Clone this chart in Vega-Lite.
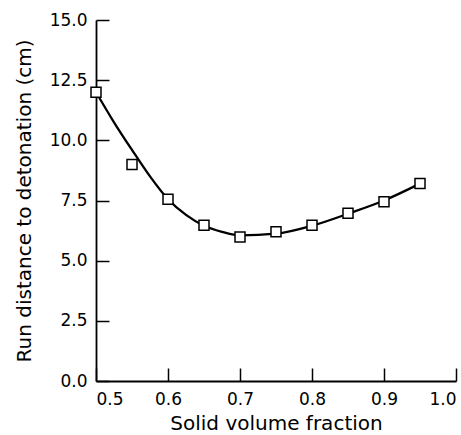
{
  "$schema": "https://vega.github.io/schema/vega-lite/v6.json",
  "width": 360,
  "height": 361,
  "autosize": "none",
  "padding": {"left": 96, "top": 20, "right": 5, "bottom": 54},
  "background": "white",
  "config": {
    "view": {"stroke": null},
    "axis": {
      "domainColor": "black",
      "domainWidth": 1.8,
      "tickColor": "black",
      "tickWidth": 1.5,
      "tickSize": -13,
      "labelColor": "black",
      "titleColor": "black",
      "labelFont": "DejaVu Sans",
      "titleFont": "DejaVu Sans",
      "labelFontSize": 17,
      "titleFontSize": 20,
      "titleFontWeight": "normal",
      "grid": false
    }
  },
  "datasets": {
    "points": [
      {"x": 0.5, "y": 12.0},
      {"x": 0.55, "y": 9.0},
      {"x": 0.6, "y": 7.55},
      {"x": 0.65, "y": 6.47},
      {"x": 0.7, "y": 5.98},
      {"x": 0.75, "y": 6.2},
      {"x": 0.8, "y": 6.47},
      {"x": 0.85, "y": 6.97},
      {"x": 0.9, "y": 7.45},
      {"x": 0.95, "y": 8.21}
    ],
    "curve": [
      {"x": 0.5, "y": 12.0},
      {"x": 0.525, "y": 10.75},
      {"x": 0.55, "y": 9.6},
      {"x": 0.575, "y": 8.5},
      {"x": 0.6, "y": 7.55},
      {"x": 0.625, "y": 6.9},
      {"x": 0.65, "y": 6.45},
      {"x": 0.675, "y": 6.2},
      {"x": 0.7, "y": 6.05},
      {"x": 0.75, "y": 6.12},
      {"x": 0.8, "y": 6.45},
      {"x": 0.85, "y": 6.95},
      {"x": 0.9, "y": 7.5},
      {"x": 0.95, "y": 8.2}
    ]
  },
  "layer": [
    {
      "data": {"name": "curve"},
      "mark": {"type": "line", "color": "black", "strokeWidth": 2.3, "interpolate": "monotone"},
      "encoding": {
        "x": {
          "field": "x", "type": "quantitative",
          "scale": {"domain": [0.5, 1.0], "nice": false, "zero": false},
          "axis": {"values": [0.5, 0.6, 0.7, 0.8, 0.9, 1.0], "format": ".1f", "title": "Solid volume fraction", "labelPadding": 23, "titlePadding": 6}
        },
        "y": {
          "field": "y", "type": "quantitative",
          "scale": {"domain": [0, 15], "nice": false},
          "axis": {"values": [0, 2.5, 5, 7.5, 10, 12.5, 15], "format": ".1f", "title": "Run distance to detonation (cm)", "labelPadding": 22, "titlePadding": 15}
        }
      }
    },
    {
      "data": {"name": "points"},
      "mark": {"type": "point", "shape": "square", "filled": true, "fill": "white", "stroke": "black", "strokeWidth": 1.5, "size": 100, "opacity": 1},
      "encoding": {
        "x": {"field": "x", "type": "quantitative"},
        "y": {"field": "y", "type": "quantitative"}
      }
    }
  ]
}
